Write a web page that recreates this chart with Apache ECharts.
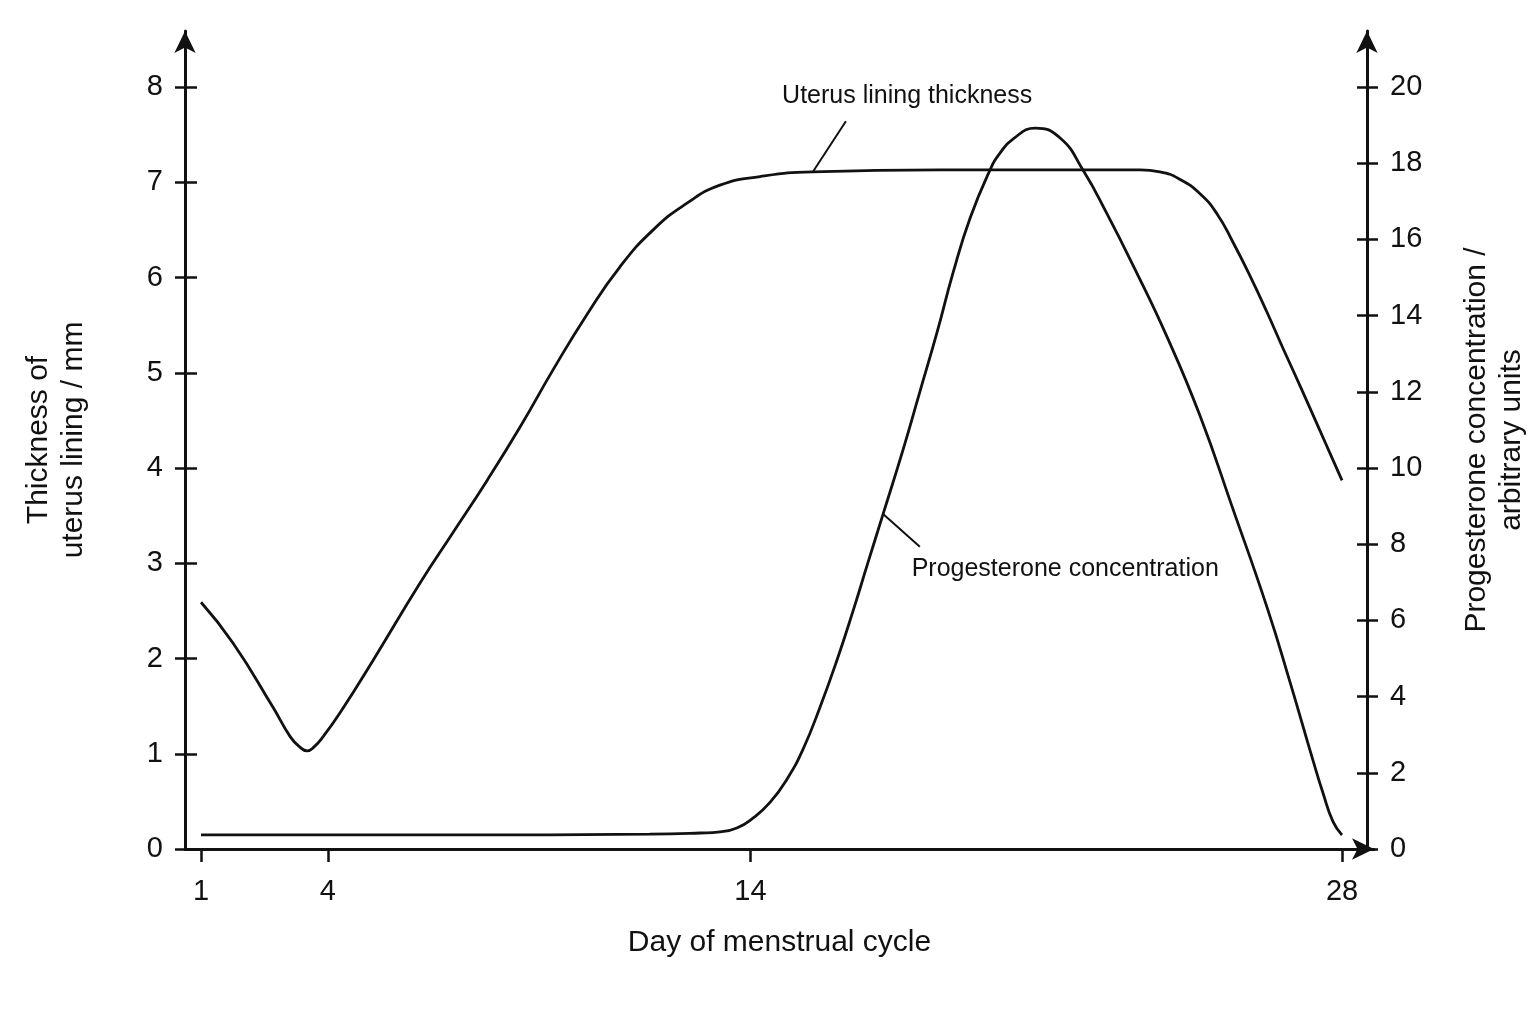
<!DOCTYPE html>
<html>
<head>
<meta charset="utf-8">
<title>Uterus lining thickness and progesterone concentration</title>
<script src="https://cdn.jsdelivr.net/npm/echarts@6.0.0/dist/echarts.min.js"></script>
<style>
  html, body { margin: 0; padding: 0; background: #fff; }
  #main { width: 1536px; height: 1024px; }
</style>
</head>
<body>
<div id="main"></div>
<script>
// tick labels
var dayTicks = [1, 4, 14, 28];
var thicknessTicks = [0, 1, 2, 3, 4, 5, 6, 7, 8];
var progTicks = [0, 2, 4, 6, 8, 10, 12, 14, 16, 18, 20];

// uterus lining thickness / mm
var liningDays = [1.00, 1.76, 2.70, 3.11, 3.34, 3.51, 3.67, 3.89, 4.29, 5.07, 6.18, 6.96, 7.77, 8.55, 9.33, 10.13,
  10.91, 11.70, 12.50, 13.28, 14.23, 15.48, 18.49, 23.22, 23.69, 24.17, 24.64, 25.04, 25.42, 25.82, 26.22,
  26.60, 27.01, 27.41, 27.79, 28.00];
var liningMm = [2.59, 2.16, 1.49, 1.18, 1.07, 1.03, 1.07, 1.18, 1.43, 1.98, 2.79, 3.32, 3.87, 4.43, 5.03, 5.61,
  6.11, 6.50, 6.78, 6.97, 7.06, 7.11, 7.13, 7.13, 7.11, 7.03, 6.88, 6.67, 6.37, 6.02, 5.64,
  5.26, 4.86, 4.46, 4.08, 3.87];

// progesterone concentration / arbitrary units
var progDays = [1.00, 6.89, 11.62, 12.81, 13.28, 13.68, 14.06, 14.47, 14.87, 15.25, 15.65, 16.05, 16.43, 16.78,
  17.14, 17.61, 18.01, 18.42, 18.80, 19.20, 19.67, 19.91, 20.22, 20.74, 21.33, 21.87, 22.44, 23.05, 23.86,
  24.64, 25.42, 26.23, 26.77, 27.31, 27.55, 27.79, 28.00];
var progUnits = [0.37, 0.37, 0.39, 0.42, 0.45, 0.55, 0.81, 1.23, 1.84, 2.63, 3.73, 4.96, 6.25, 7.51,
  8.79, 10.47, 12.00, 13.57, 15.14, 16.56, 17.82, 18.27, 18.64, 18.92, 18.66, 17.82, 16.67, 15.33, 13.44,
  11.37, 8.92, 6.33, 4.38, 2.34, 1.47, 0.71, 0.37];

// curve labels: leader line (curve -> label) and label anchor, in data units
var liningLabel = 'Uterus lining thickness';
var liningLeader = [[15.48, 7.11], [16.26, 7.64]];
var liningLabelAt = [17.71, 7.90];
var progLabel = 'Progesterone concentration';
var progLeader = [[17.14, 8.79], [18.01, 7.93]];
var progLabelAt = [21.45, 7.35];

var ink = '#111';
var font = "'Liberation Sans', Arial, sans-serif";

function zip(xs, ys) {
  return xs.map(function (x, i) { return [x, ys[i]]; });
}

function note(leader, at, text) {
  return {
    markLine: {
      silent: true,
      symbol: ['none', 'none'],
      label: { show: false },
      emphasis: { disabled: true },
      lineStyle: { color: ink, width: 2, type: 'solid' },
      data: [[{ coord: leader[0] }, { coord: leader[1] }]]
    },
    markPoint: {
      silent: true,
      symbol: 'circle',
      symbolSize: 1,
      itemStyle: { color: 'rgba(0,0,0,0)' },
      label: { show: true, position: 'inside', formatter: text, fontSize: 25, color: ink, fontFamily: font },
      data: [{ coord: at }]
    }
  };
}

function yAxisPair(side, max, ticks, outLen, inLen, margin, name, nameGap) {
  var offset = side === 'right' ? -7 : 0;
  var main = {
    type: 'value', position: side, offset: offset, min: 0, max: max,
    axisLine: { show: true, onZero: false, symbol: ['none', 'arrow'], symbolSize: [16, 22],
      lineStyle: { color: ink, width: 3 } },
    axisTick: { show: true, length: outLen, customValues: ticks, lineStyle: { color: ink, width: 2.5 } },
    axisLabel: { customValues: ticks, margin: margin, fontSize: 29, color: ink, fontFamily: font },
    splitLine: { show: false },
    name: name, nameLocation: 'middle', nameGap: nameGap, nameMoveOverlap: false,
    nameTextStyle: { fontSize: 30, lineHeight: 35, color: ink, fontFamily: font }
  };
  // same scale, ticks pointing into the plot so they cross the axis line
  var inner = {
    type: 'value', position: side, offset: offset, min: 0, max: max,
    axisLine: { show: false },
    axisTick: { show: true, inside: true, length: inLen, customValues: ticks, lineStyle: { color: ink, width: 2.5 } },
    axisLabel: { show: false },
    splitLine: { show: false }
  };
  return [main, inner];
}

var myChart = echarts.init(document.getElementById('main'), null, { renderer: 'canvas' });

var leftAxes = yAxisPair('left', 8.588, thicknessTicks, 10, 12, 22, 'Thickness of\nuterus lining / mm', 94);
var rightAxes = yAxisPair('right', 21.47, progTicks, 11, 10, 23, 'Progesterone concentration /\narbitrary units', 92);

var liningSeries = {
  name: liningLabel, type: 'line', yAxisIndex: 0,
  data: zip(liningDays, liningMm),
  showSymbol: false, smooth: 0.5,
  lineStyle: { color: ink, width: 2.8 }
};
Object.assign(liningSeries, note(liningLeader, liningLabelAt, liningLabel));

var progSeries = {
  name: progLabel, type: 'line', yAxisIndex: 2,
  data: zip(progDays, progUnits),
  showSymbol: false, smooth: 0.5,
  lineStyle: { color: ink, width: 2.8 }
};
Object.assign(progSeries, note(progLeader, progLabelAt, progLabel));

var option = {
  animation: false,
  backgroundColor: '#fff',
  grid: { left: 185, right: 162, top: 31, bottom: 175, containLabel: false, outerBoundsMode: 'none' },
  xAxis: {
    type: 'value', min: 0.621, max: 28.757,
    axisLine: { show: true, onZero: false, symbol: ['none', 'arrow'], symbolSize: [16, 22],
      lineStyle: { color: ink, width: 3 } },
    axisTick: { show: true, length: 13, customValues: dayTicks, lineStyle: { color: ink, width: 2.5 } },
    axisLabel: { customValues: dayTicks, margin: 28, fontSize: 29, color: ink, fontFamily: font },
    splitLine: { show: false },
    name: 'Day of menstrual cycle', nameLocation: 'middle', nameGap: 79, nameMoveOverlap: false,
    nameTextStyle: { fontSize: 30, lineHeight: 30, color: ink, fontFamily: font }
  },
  yAxis: leftAxes.concat(rightAxes),
  series: [liningSeries, progSeries]
};

myChart.setOption(option);
</script>
</body>
</html>
